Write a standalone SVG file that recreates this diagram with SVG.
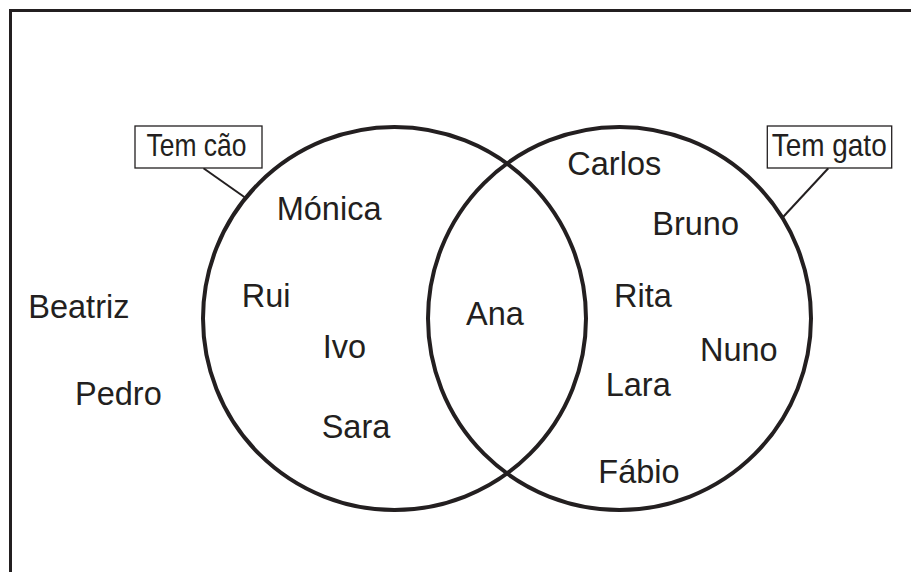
<svg xmlns="http://www.w3.org/2000/svg" width="911" height="572" viewBox="0 0 911 572">
<style>
.name{font-family:"Liberation Sans",Arial,sans-serif;font-size:32.5px;fill:#231f20}
.lab{font-family:"Liberation Sans",Arial,sans-serif;font-size:32px;fill:#231f20}
.set{fill:none;stroke:#231f20;stroke-width:4}
.box{fill:#fff;stroke:#231f20;stroke-width:1.3}
.lead{stroke:#231f20;stroke-width:2;fill:none}
</style>
<rect width="911" height="572" fill="#fff"/>
<rect x="10.5" y="10.5" width="930" height="600" fill="none" stroke="#231f20" stroke-width="3"/>
<g id="connectors">
<line class="lead" x1="203.5" y1="168.3" x2="245" y2="197.5"/>
<line class="lead" x1="828.3" y1="168.3" x2="783.3" y2="216.7"/>
</g>
<g id="set-cao"><circle class="set" cx="394.5" cy="318.5" r="191.5"/></g>
<g id="set-gato"><circle class="set" cx="619.5" cy="318.5" r="191.5"/></g>
<g id="label-cao">
<rect class="box" x="135" y="126" width="127" height="42"/>
<text class="lab" x="146.5" y="156" textLength="100" lengthAdjust="spacingAndGlyphs">Tem cão</text>
</g>
<g id="label-gato">
<rect class="box" x="767.3" y="126" width="124.4" height="42"/>
<text class="lab" x="771.7" y="156" textLength="115" lengthAdjust="spacingAndGlyphs">Tem gato</text>
</g>
<g id="names">
<text class="name" x="276.7" y="220">Mónica</text>
<text class="name" x="241.7" y="307.3">Rui</text>
<text class="name" x="322.7" y="358.3">Ivo</text>
<text class="name" x="321.7" y="438.3">Sara</text>
<text class="name" x="466" y="325">Ana</text>
<text class="name" x="567.3" y="175">Carlos</text>
<text class="name" x="652.3" y="235">Bruno</text>
<text class="name" x="614" y="307.3">Rita</text>
<text class="name" x="700" y="360.7">Nuno</text>
<text class="name" x="605.7" y="396">Lara</text>
<text class="name" x="598.3" y="482.7">Fábio</text>
<text class="name" x="28.3" y="318.3">Beatriz</text>
<text class="name" x="75" y="405">Pedro</text>
</g>
</svg>
